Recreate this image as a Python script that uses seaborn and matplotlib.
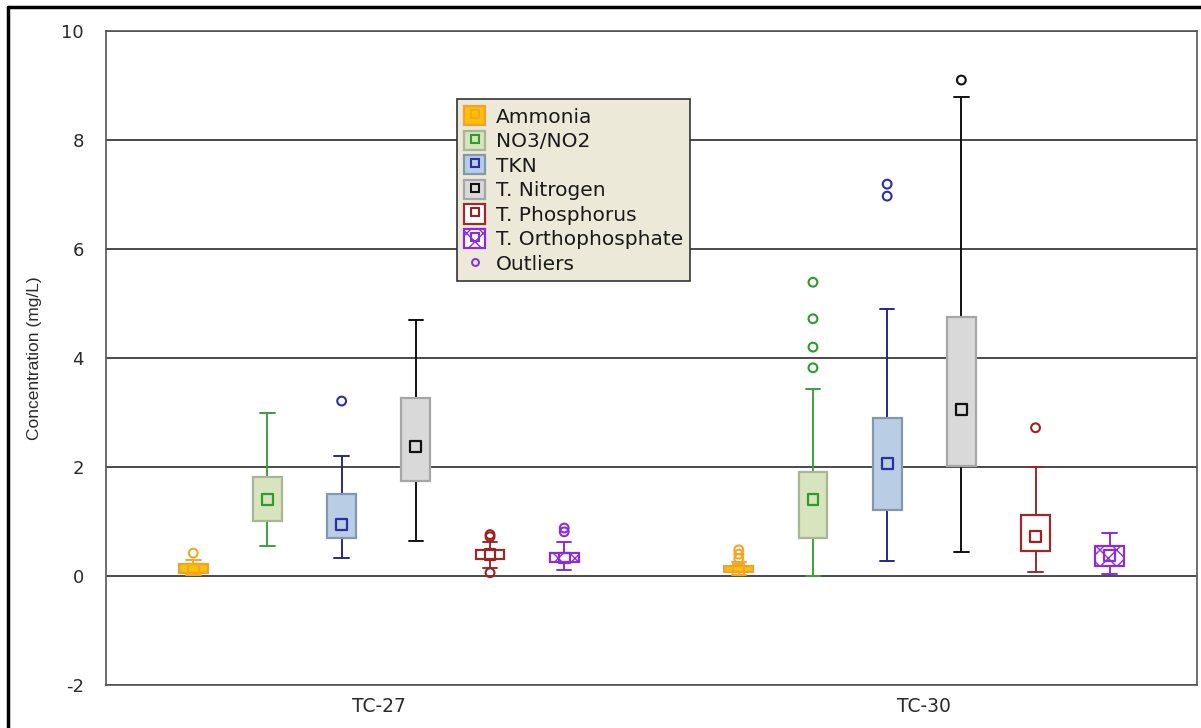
import numpy as np
import pandas as pd
import matplotlib
matplotlib.use("Agg")
import matplotlib.pyplot as plt
import seaborn as sns
from matplotlib.patches import Patch
from matplotlib.lines import Line2D
from matplotlib.legend_handler import HandlerTuple

# ---------------- data ----------------
series = ["Ammonia", "NO3/NO2", "TKN", "T. Nitrogen", "T. Phosphorus", "T. Orthophosphate"]
sites = ["TC-27", "TC-30"]

tc27_median = [0.13, 1.40, 0.95, 2.37, 0.40, 0.33]
tc27_q1 = [0.06, 1.01, 0.70, 1.74, 0.31, 0.26]
tc27_q3 = [0.22, 1.82, 1.50, 3.27, 0.48, 0.42]
tc27_whislo = [0.02, 0.55, 0.33, 0.64, 0.15, 0.11]
tc27_whishi = [0.30, 3.00, 2.20, 4.70, 0.62, 0.62]
tc27_outliers = [[0.42], [], [3.21], [], [0.76, 0.72, 0.06], [0.88, 0.81]]

tc30_median = [0.12, 1.41, 2.06, 3.06, 0.72, 0.38]
tc30_q1 = [0.07, 0.70, 1.21, 2.02, 0.46, 0.18]
tc30_q3 = [0.18, 1.91, 2.90, 4.75, 1.12, 0.55]
tc30_whislo = [0.02, 0.00, 0.27, 0.44, 0.07, 0.04]
tc30_whishi = [0.25, 3.43, 4.90, 8.79, 2.00, 0.79]
tc30_outliers = [[0.48, 0.40, 0.32], [5.39, 4.72, 4.20, 3.82], [7.19, 6.97], [9.10], [2.72], []]

y_ticks = [-2, 0, 2, 4, 6, 8, 10]

# ---------------- styles ----------------
face_colors = ["#FFC000", "#D7E4BD", "#B9CDE5", "#D9D9D9", "#FFFFFF", "#FFFFFF"]
edge_colors = ["#E8A33A", "#A8B596", "#8497B0", "#A6A6A6", "#9C2A2A", "#8A2BE2"]
line_colors = ["#F0A830", "#3E9E3E", "#27288A", "#111111", "#9C2A2A", "#8A2BE2"]
mark_colors = ["#F5A623", "#2E9B2E", "#2B2FA0", "#111111", "#A02020", "#8A2BE2"]
hatches = [None, None, None, None, None, "xx"]

sns.set_theme(style="white")
plt.rcParams["font.family"] = ["DejaVu Sans"]
plt.rcParams["hatch.linewidth"] = 1.0

fig = plt.figure(figsize=(12.01, 7.28), dpi=100)
ax = fig.add_axes([106 / 1201, 1 - 685 / 728, (1197 - 106) / 1201, (685 - 31) / 728])

group_pos = np.arange(len(sites))
offsets = (np.arange(len(series)) - 2.5) * 0.136
box_w = 0.053

all_stats = {
    "TC-27": (tc27_median, tc27_q1, tc27_q3, tc27_whislo, tc27_whishi, tc27_outliers),
    "TC-30": (tc30_median, tc30_q1, tc30_q3, tc30_whislo, tc30_whishi, tc30_outliers),
}

ax.set_axisbelow(True)
ax.yaxis.grid(True, color="#3c3c3c", linewidth=1.3)
ax.xaxis.grid(False)

med_rows = []
out_rows = []
for gi, site in enumerate(sites):
    med, q1, q3, wlo, whi, outl = all_stats[site]
    for si, name in enumerate(series):
        pos = group_pos[gi] + offsets[si]
        st = dict(med=med[si], q1=q1[si], q3=q3[si], whislo=wlo[si], whishi=whi[si], fliers=[])
        res = ax.bxp([st], positions=[pos], widths=box_w, capwidths=box_w * 0.5,
                     patch_artist=True, showfliers=False,
                     boxprops=dict(facecolor=face_colors[si], edgecolor=edge_colors[si], linewidth=1.6),
                     whiskerprops=dict(color=line_colors[si], linewidth=1.4),
                     capprops=dict(color=line_colors[si], linewidth=1.4),
                     medianprops=dict(linewidth=0))
        for b in res["boxes"]:
            b.set_zorder(3)
            if hatches[si]:
                b.set_hatch(hatches[si])
                try:
                    b.set_hatchcolor(edge_colors[si])
                except Exception:
                    pass
        med_rows.append(dict(x=pos, y=med[si], series=name))
        for v in outl[si]:
            out_rows.append(dict(x=pos, y=v, series=name))

med_df = pd.DataFrame(med_rows)
out_df = pd.DataFrame(out_rows)

for si, name in enumerate(series):
    d = med_df[med_df["series"] == name]
    sns.scatterplot(data=d, x="x", y="y", marker="s", s=60, ax=ax,
                    facecolor="none", edgecolor=mark_colors[si], linewidth=1.6,
                    zorder=4, legend=False)
    o = out_df[out_df["series"] == name]
    if len(o):
        sns.scatterplot(data=o, x="x", y="y", marker="o", s=40, ax=ax,
                        facecolor="none", edgecolor=mark_colors[si], linewidth=1.5,
                        zorder=4, legend=False)

ax.set_xlim(-0.5, 1.5)
ax.set_ylim(-2, 10)
ax.set_xticks(group_pos)
ax.set_xticklabels(sites, fontsize=13.5, color="#2a2a2a")
ax.set_yticks(y_ticks)
ax.set_yticklabels([str(t) for t in y_ticks], fontsize=13, color="#2a2a2a")
ax.tick_params(axis="both", direction="in", length=4, width=1, color="#444444")
ax.tick_params(axis="y", pad=16)
ax.tick_params(axis="x", pad=9)
ax.set_xlabel("")
ax.set_ylabel("Concentration (mg/L)", fontsize=12.5, color="#2a2a2a",
              family=["Liberation Sans", "DejaVu Sans"], labelpad=14)
for sp in ax.spines.values():
    sp.set_color("#555555")
    sp.set_linewidth(1.2)

# legend
handles = []
for si, name in enumerate(series):
    p = Patch(facecolor=face_colors[si], edgecolor=edge_colors[si], linewidth=1.6,
              hatch=hatches[si])
    m = Line2D([], [], marker="s", markersize=6, markerfacecolor="none",
               markeredgecolor=mark_colors[si], markeredgewidth=1.5, linestyle="none")
    handles.append((p, m))
handles.append(Line2D([], [], marker="o", markersize=5, markerfacecolor="none",
                      markeredgecolor="#8A2BE2", markeredgewidth=1.4, linestyle="none"))
labels = series + ["Outliers"]
leg = ax.legend(handles, labels, loc="upper left", bbox_to_anchor=(0.322, 0.896),
                handler_map={tuple: HandlerTuple(ndivide=1)},
                fontsize=14.5, frameon=True, fancybox=False, framealpha=1,
                facecolor="#ECE9D8", edgecolor="#333333", handlelength=1.05,
                handleheight=1.1, handletextpad=0.5, labelspacing=0.2,
                borderpad=0.35, borderaxespad=0)
leg.get_frame().set_linewidth(1.2)
leg.set_zorder(10)
for t in leg.get_texts():
    t.set_color("#1a1a1a")

# outer figure border (left and top edges visible)
fig.add_artist(Line2D([8 / 1201, 8 / 1201], [0, 1 - 7 / 728], transform=fig.transFigure,
                      color="black", linewidth=2.5))
fig.add_artist(Line2D([8 / 1201, 1], [1 - 7 / 728, 1 - 7 / 728], transform=fig.transFigure,
                      color="black", linewidth=2.5))

fig.savefig("out.png", dpi=100)
